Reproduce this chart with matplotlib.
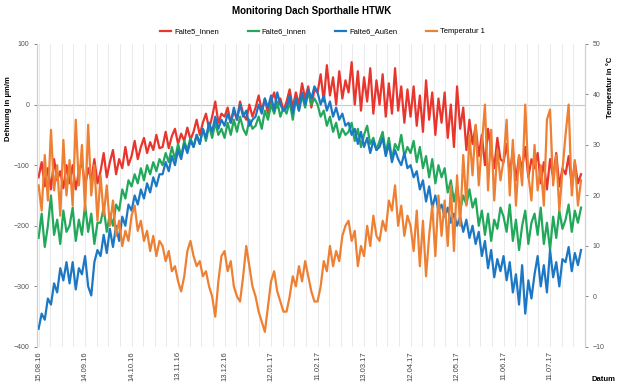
import numpy as np
import matplotlib
matplotlib.use('Agg')
import matplotlib.pyplot as plt
import matplotlib.dates as mdates

plt.rcParams['font.family'] = ['Liberation Sans', 'DejaVu Sans']

# Messreihe: Start 15.08.16, alle 2 Tage ein Wert
start = np.datetime64('2016-08-15')
step_days = 2

falte5_innen = [
    -120, -95, -135, -105, -140, -90, -125, -110, -138, -100,
    -130, -100, -140, -110, -95, -135, -105, -125, -90, -130,
    -110, -80, -120, -95, -75, -115, -90, -105, -70, -100,
    -85, -60, -90, -70, -55, -80, -62, -75, -50, -72,
    -70, -45, -72, -52, -40, -65, -48, -60, -38, -58,
    -45, -25, -50, -30, -15, -40, -20, 5, -30, -15,
    -20, -5, -30, -10, -25, 5, -15, -25, 0, -20,
    -5, 15, -10, 10, -15, 5, 20, -5, 10, -10,
    5, 25, -5, 20, 0, 35, 10, 30, -5, 25,
    20, 50, 5, 65, 15, 45, 0, 55, 10, 40,
    20, 70, 0, 55, -10, 45, 5, 60, -15, 40,
    0, 50, -20, 35, -15, 60, -10, 30, -30, 25,
    -20, 30, -35, 15, -45, 40, -25, 20, -50, 10,
    -30, 20, -55, 0, -70, 30, -40, -5, -75, -25,
    -65, -35, -85, -50, -100, -40, -75, -105, -55, -90,
    -95, -65, -115, -75, -125, -85, -105, -70, -120, -90,
    -105, -80, -130, -95, -140, -90, -120, -80, -135, -105,
    -115, -85, -135, -95, -130, -115]

falte6_innen = [
    -220, -180, -235, -200, -150, -215, -190, -230, -175, -210,
    -200, -170, -225, -190, -215, -165, -210, -180, -230, -195,
    -195, -170, -210, -180, -200, -165, -175, -140, -155, -125,
    -135, -115, -130, -105, -125, -100, -115, -95, -110, -90,
    -100, -80, -95, -70, -90, -65, -85, -60, -75, -55,
    -70, -50, -65, -40, -60, -35, -55, -30, -50, -40,
    -55, -30, -50, -25, -45, -20, -40, -50, -25, -40,
    -35, -20, -40, -10, -25, 0, -15, 5, -20, -5,
    -15, 5, -25, 10, -10, 15, -5, 20, 0, 10,
    0, -20, -10, -35, -20, -45, -30, -55, -40, -50,
    -45, -30, -60, -40, -70, -50, -35, -65, -55, -75,
    -60, -45, -80, -55, -90, -65, -75, -50, -85, -70,
    -80, -60, -95, -70, -105, -85, -120, -90, -130, -100,
    -120, -105, -145, -125, -160, -135, -175, -150, -165, -140,
    -170, -155, -200, -175, -215, -180, -225, -190, -205, -170,
    -185, -210, -165, -225, -190, -240, -200, -175, -230, -195,
    -180, -215, -170, -230, -195, -240, -185, -220, -175, -205,
    -190, -165, -210, -175, -195, -170]

falte6_aussen = [
    -370, -345, -355, -320, -330, -295, -310, -270, -290, -260,
    -295, -260, -305, -270, -280, -250, -300, -315, -260, -240,
    -250, -215, -245, -205, -235, -200, -225, -185, -200, -165,
    -175, -150, -165, -140, -155, -130, -145, -120, -135, -115,
    -115, -95, -110, -85, -100, -75, -90, -65, -80, -60,
    -70, -50, -65, -40, -55, -30, -45, -20, -40, -25,
    -35, -15, -30, -5, -25, 0, -20, -10, -35, -25,
    -20, 0, -15, 10, -5, 15, -10, 20, 0, -10,
    -5, 15, -15, 10, -10, 20, 0, 25, 10, 30,
    20, 0, 15, -10, 5, -20, -5, -25, -15, -35,
    -30, -50, -40, -65, -45, -70, -55, -80, -60, -75,
    -70, -55, -85, -65, -95, -75, -90, -100, -80, -105,
    -100, -120, -110, -140, -125, -160, -135, -170, -150, -175,
    -165, -185, -170, -195, -180, -200, -185, -210, -190, -220,
    -200, -230, -210, -250, -225, -270, -240, -285, -255, -275,
    -250, -290, -260, -310, -280, -330, -265, -345, -290, -320,
    -280, -250, -300, -265, -310, -240, -285, -260, -300, -255,
    -260, -235, -275, -245, -265, -240]

temperatur_1 = [
    22, 17, 28, 19, 33, 21, 26, 16, 31, 20,
    27, 18, 35, 22, 30, 17, 34, 20, 26, 15,
    24, 16, 22, 14, 19, 12, 15, 10, 13, 11,
    16, 18, 13, 15, 11, 13, 9, 12, 8, 11,
    10, 7, 9, 5, 6, 3, 1, 4, 9, 11,
    8, 6, 7, 4, 5, 2, 0, -4, 3, 8,
    9, 5, 7, 2, 0, -1, 4, 10, 6, 2,
    0, -3, -5, -7, -2, 3, 5, 1, -1, -3,
    -3, 0, 4, 2, 6, 3, 7, 4, 1, -1,
    -1, 2, 7, 5, 10, 6, 9, 7, 12, 14,
    15, 11, 13, 6, 10, 8, 14, 10, 16, 12,
    11, 15, 13, 19, 17, 22, 14, 18, 12, 16,
    14, 9, 17, 6, 15, 4, 12, 18, 8, 20,
    12, 19, 10, 22, 9, 24, 14, 28, 18, 32,
    24, 34, 22, 30, 38, 21, 33, 19, 29, 23,
    27, 35, 20, 31, 18, 28, 22, 38, 24, 19,
    30, 21, 26, 18, 35, 37, 22, 28, 17, 25,
    32, 38, 20, 27, 18, 23]

dates = start + np.arange(len(falte5_innen)) * step_days
dates = dates.astype('datetime64[D]').astype(object)

fig = plt.figure(figsize=(6.17, 3.88), dpi=100)
ax = fig.add_axes([0.060, 0.1057, 0.888, 0.781])
ax2 = ax.twinx()

lw = 1.6
l1, = ax.plot(dates, falte5_innen, color='#E8352D', lw=lw, label='Falte5_Innen')
l2, = ax.plot(dates, falte6_innen, color='#22A85B', lw=lw, label='Falte6_Innen')
l3, = ax.plot(dates, falte6_aussen, color='#1C78C4', lw=lw, label='Falte6_Außen')
l4, = ax2.plot(dates, temperatur_1, color='#EE8033', lw=lw, label='Temperatur 1')

# Achsen
ax.set_xlim(np.datetime64('2016-08-14').astype(object), np.datetime64('2017-08-02').astype(object))
ax.set_ylim(-400, 100)
ax.set_yticks(np.arange(-400, 101, 100))
ax2.set_ylim(-10, 50)
ax2.set_yticks(np.arange(-10, 51, 10))

ticks = [np.datetime64('2016-08-15') + np.timedelta64(30 * k, 'D') for k in range(12)]
ax.set_xticks([t.astype(object) for t in ticks])
ax.xaxis.set_major_formatter(mdates.DateFormatter('%d.%m.%y'))
minor = [np.datetime64('2016-08-15T00') + np.timedelta64(180 * k, 'h') for k in range(48)]
ax.set_xticks([t.astype(object) for t in minor], minor=True)
ax.grid(True, which='both', axis='x', color='#e6e6e6', lw=0.6)
ax.set_axisbelow(True)
ax.axhline(0, color='#c8c8c8', lw=0.8, zorder=0.5)

for a in (ax, ax2):
    for s in ('top', 'bottom'):
        a.spines[s].set_visible(False)
    a.spines['left'].set_color('#d0d0d0')
    a.spines['right'].set_color('#d0d0d0')
    a.tick_params(axis='y', labelsize=5, colors='#555555', length=2, width=0.5)
ax.tick_params(axis='x', which='major', labelsize=5.5, labelrotation=90, length=0, pad=3, colors='#444444')
ax.tick_params(axis='x', which='minor', length=0)

fig.suptitle('Monitoring Dach Sporthalle HTWK', x=0.505, y=0.985, fontsize=7, fontweight='bold')
fig.legend(handles=[l1, l2, l3, l4], loc='center', bbox_to_anchor=(0.523, 0.918), ncol=4,
           frameon=False, fontsize=5.5, handlelength=1.4, columnspacing=3.8, handletextpad=0.4)

fig.text(0.013, 0.72, 'Dehnung in µm/m', rotation=90, ha='center', va='center',
         fontsize=5.5, fontweight='bold')
fig.text(0.988, 0.775, 'Temperatur in °C', rotation=90, ha='center', va='center',
         fontsize=5.5, fontweight='bold')
fig.text(0.958, 0.012, 'Datum', ha='left', va='bottom', fontsize=5.5, fontweight='bold')

fig.savefig('out.png', dpi=100)
